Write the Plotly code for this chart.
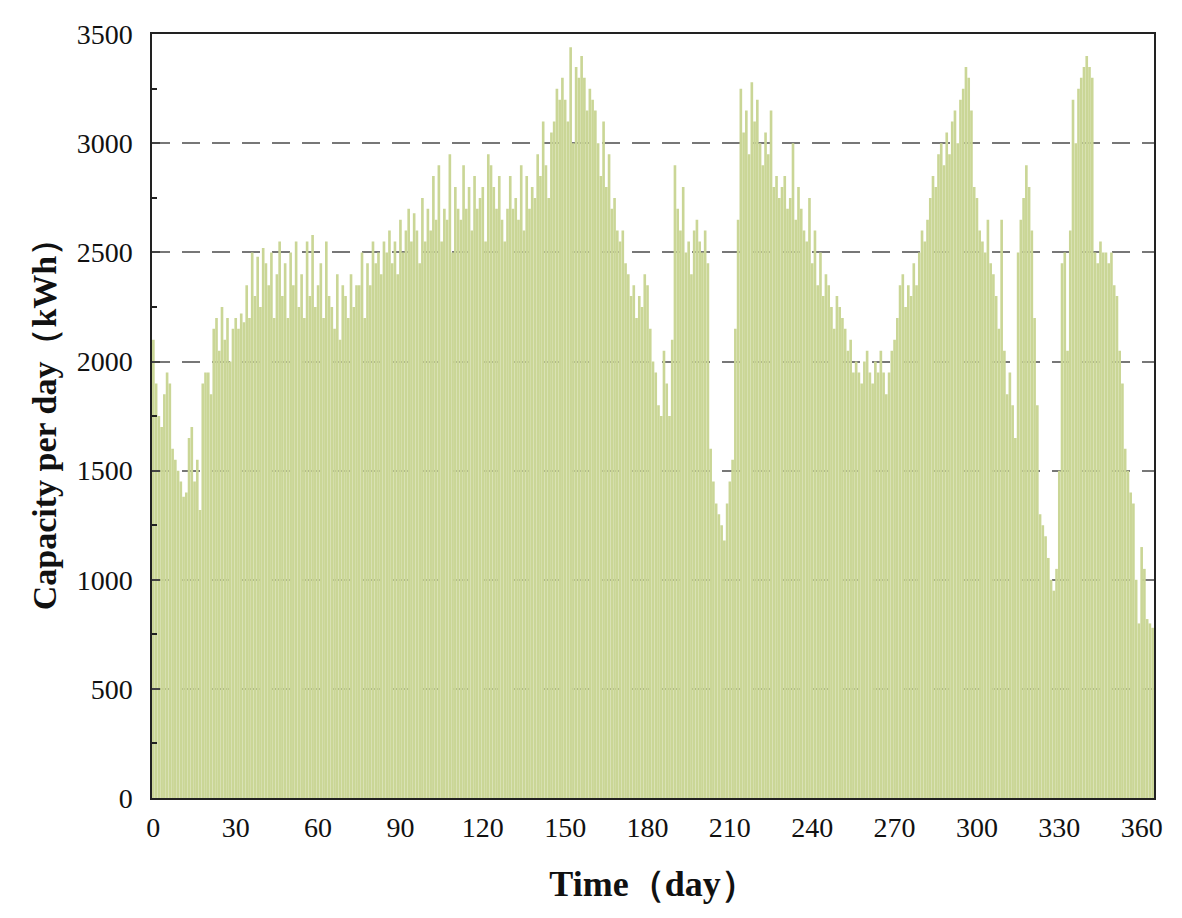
import plotly.graph_objects as go

# daily capacity (kWh), 10 days per row
capacity = [
    2100, 1900, 1750, 1700, 1850, 1950, 1900, 1600, 1550, 1500,
    1450, 1380, 1400, 1650, 1700, 1450, 1550, 1320, 1900, 1950,
    1950, 1850, 2150, 2200, 2050, 2250, 2100, 2200, 2000, 2150,
    2200, 2150, 2220, 2180, 2350, 2200, 2500, 2300, 2480, 2250,
    2520, 2450, 2350, 2500, 2200, 2400, 2550, 2300, 2450, 2200,
    2500, 2350, 2550, 2250, 2400, 2200, 2550, 2300, 2580, 2250,
    2350, 2450, 2200, 2550, 2300, 2250, 2150, 2400, 2100, 2350,
    2300, 2200, 2400, 2250, 2350, 2350, 2500, 2200, 2450, 2350,
    2550, 2450, 2500, 2400, 2550, 2500, 2600, 2450, 2550, 2400,
    2650, 2500, 2600, 2700, 2550, 2680, 2600, 2450, 2750, 2550,
    2700, 2600, 2850, 2650, 2900, 2550, 2700, 2650, 2950, 2500,
    2800, 2700, 2650, 2900, 2700, 2800, 2600, 2850, 2700, 2750,
    2800, 2550, 2950, 2900, 2800, 2700, 2850, 2650, 2550, 2700,
    2850, 2700, 2750, 2650, 2900, 2600, 2850, 2700, 2800, 2750,
    2950, 2850, 3100, 2900, 2750, 3050, 3100, 3250, 3200, 3300,
    3200, 3100, 3440, 3000, 3350, 3300, 3400, 3300, 3150, 3250,
    3200, 3150, 3000, 2850, 3100, 2800, 2950, 2700, 2750, 2600,
    2550, 2600, 2450, 2400, 2300, 2350, 2200, 2300, 2250, 2400,
    2350, 2150, 2000, 1950, 1800, 1750, 2050, 1900, 1750, 2100,
    2900, 2700, 2600, 2800, 2500, 2550, 2400, 2600, 2650, 2550,
    2500, 2600, 2450, 1600, 1450, 1350, 1300, 1250, 1180, 1350,
    1450, 1550, 2150, 2650, 3250, 3050, 3150, 2950, 3280, 3100,
    3200, 3000, 2900, 3050, 2950, 3150, 2800, 2850, 2750, 2800,
    2850, 2700, 2750, 3000, 2650, 2800, 2700, 2600, 2550, 2750,
    2450, 2600, 2350, 2500, 2300, 2400, 2350, 2250, 2150, 2300,
    2250, 2200, 2150, 2050, 2100, 1950, 2000, 1950, 1900, 2000,
    2050, 1950, 1900, 2000, 1950, 2050, 1950, 1850, 1950, 2050,
    2100, 2200, 2350, 2400, 2250, 2350, 2300, 2450, 2350, 2500,
    2600, 2550, 2650, 2750, 2850, 2800, 2950, 3000, 2900, 3050,
    2950, 3100, 3150, 3000, 3200, 3250, 3350, 3300, 3150, 2800,
    2750, 2600, 2550, 2500, 2650, 2450, 2400, 2300, 2150, 2650,
    2050, 1850, 1950, 1800, 1650, 2500, 2650, 2750, 2900, 2800,
    2600, 2200, 1800, 1300, 1250, 1200, 1100, 1000, 950, 1050,
    1500, 2450, 2500, 2050, 2600, 3200, 3000, 3250, 3300, 3350,
    3400, 3350, 3300, 2500, 2450, 2550, 2500, 2500, 2450, 2500,
    2350, 2300, 2050, 1900, 1600, 1500, 1400, 1350, 1000, 800,
    1150, 1050, 820, 800, 780,
]
days = list(range(len(capacity)))

serif = "Liberation Serif, Times New Roman, serif"

fig = go.Figure(go.Bar(x=days, y=capacity, marker=dict(color="#cad696", line_width=0)))

fig.update_layout(
    width=1166, height=900,
    margin=dict(l=144, r=11, t=18, b=107),
    plot_bgcolor="white", paper_bgcolor="white",
    bargap=0.04, showlegend=False,
    font=dict(family=serif, size=28, color="#111"),
)
fig.update_xaxes(
    range=[-0.5, 364.5], tickvals=list(range(0, 361, 30)),
    showgrid=False, zeroline=False,
    showline=True, linecolor="#222", linewidth=1.5, mirror=True,
    ticks="", ticklabelstandoff=4,
    title=dict(text="<b>Time（day）</b>", font=dict(size=36), standoff=28),
)
fig.update_yaxes(
    range=[0, 3501], tickvals=list(range(0, 3501, 500)),
    showgrid=True, gridcolor="#777", griddash="18px,12px", gridwidth=1.5,
    zeroline=False,
    showline=True, linecolor="#222", linewidth=1.5, mirror=True,
    ticks="inside", ticklen=8, tickwidth=2, ticklabelstandoff=12,
    minor=dict(dtick=250, ticks="inside", ticklen=5, tickcolor="#222", showgrid=False),
    title=dict(text="<b>Capacity per day（kWh）</b>", font=dict(size=34), standoff=10),
)

fig.write_html("out.html")
